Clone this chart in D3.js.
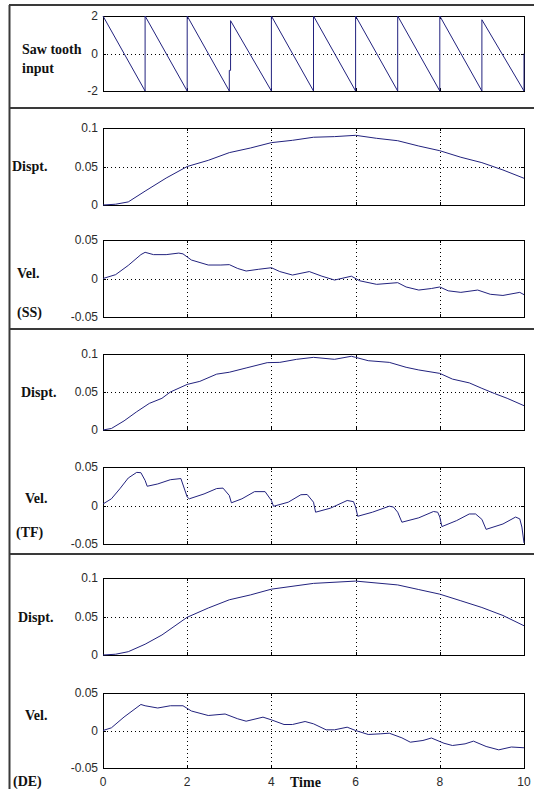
<!DOCTYPE html>
<html>
<head>
<meta charset="utf-8">
<script src="https://cdn.jsdelivr.net/npm/d3@7"></script>
<style>
  body { margin: 0; background: #fff; }
  svg { display: block; }
  .tick-lbl { font-family: "Liberation Sans", Arial, sans-serif; font-size: 12px; fill: #2a2a2a; }
  .side-lbl { font-family: "Liberation Serif", "Times New Roman", serif; font-weight: bold; font-size: 14px; fill: #111; }
</style>
</head>
<body>
<svg id="chart"></svg>
<script>
const chartSize = { width: 534, height: 789 };

// tick values
const timeTicks = [0, 2, 4, 6, 8, 10];
const sawTicks = [-2, 0, 2];
const disptTicks = [0, 0.05, 0.1];
const velTicks = [-0.05, 0, 0.05];

// saw tooth input [t, value]
const sawInput = [
  [0, 2], [1, -2], [1, 2], [2, -2], [2, 2], [3, -2], [3, -0.9], [3.03, -0.9], [3.03, 1.75], [4, -2], [4, 2], [5, -2],
  [5, 2], [6, -2], [6, 2], [7, -2], [7, 2], [8, -2], [8, 2], [9, -2], [9, 1.8], [10, -2], [10, 0]
];

// SS
const disptSS = [
  [0, 0], [0.3, 0.001], [0.6, 0.004], [1, 0.018], [1.5, 0.035], [2, 0.05], [2.5, 0.058],
  [3, 0.068], [3.5, 0.074], [4, 0.081], [4.5, 0.084], [5, 0.088], [5.5, 0.0888], [6, 0.0905],
  [6.5, 0.0866], [7, 0.0835], [7.5, 0.0766], [8, 0.0705], [8.5, 0.062], [9, 0.055],
  [9.5, 0.0455], [10, 0.0347]
];
const velSS = [
  [0, 0], [0.3, 0.005], [0.6, 0.017], [0.9, 0.031], [1.0, 0.034], [1.2, 0.031], [1.5, 0.031],
  [1.8, 0.033], [1.9, 0.032], [2.1, 0.024], [2.5, 0.0175], [2.8, 0.0175], [3.0, 0.018],
  [3.2, 0.013], [3.4, 0.0097], [3.7, 0.012], [4.0, 0.014], [4.2, 0.009], [4.5, 0.0045],
  [4.9, 0.009], [5.2, 0.003], [5.5, -0.002], [5.9, 0.003], [6.1, -0.003], [6.5, -0.0076],
  [7.0, -0.0054], [7.2, -0.011], [7.5, -0.015], [7.8, -0.013], [8.0, -0.011], [8.2, -0.016],
  [8.5, -0.018], [8.9, -0.015], [9.2, -0.0205], [9.5, -0.022], [9.9, -0.018], [10, -0.021]
];

// TF
const disptTF = [
  [0, 0], [0.2, 0.002], [0.5, 0.012], [0.8, 0.024], [1.1, 0.035], [1.4, 0.0417], [1.6, 0.05],
  [2.0, 0.06], [2.3, 0.064], [2.7, 0.0735], [3.0, 0.076], [3.4, 0.0816], [3.9, 0.0886],
  [4.2, 0.089], [4.6, 0.093], [5.0, 0.0956], [5.5, 0.093], [5.9, 0.097], [6.0, 0.0956],
  [6.3, 0.0912], [6.8, 0.089], [7.2, 0.0825], [7.5, 0.079], [8.0, 0.0745], [8.3, 0.067],
  [8.7, 0.062], [9.0, 0.0548], [9.3, 0.048], [9.6, 0.0417], [10, 0.032]
];
const velTF = [
  [0, 0.002], [0.2, 0.0087], [0.4, 0.0217], [0.6, 0.0357], [0.8, 0.043], [0.9, 0.0426],
  [1.0, 0.0326], [1.05, 0.025], [1.3, 0.028], [1.6, 0.0335], [1.85, 0.035], [2.0, 0.011],
  [2.05, 0.0087], [2.4, 0.015], [2.7, 0.022], [2.85, 0.0226], [3.0, 0.013], [3.05, 0.0035],
  [3.3, 0.0087], [3.6, 0.018], [3.85, 0.018], [4.0, 0.0065], [4.05, -0.001], [4.4, 0.0043],
  [4.7, 0.014], [4.85, 0.0143], [5.0, 0.0043], [5.05, -0.0087], [5.4, -0.0035], [5.8, 0.0065],
  [5.95, 0.005], [6.0, -0.002], [6.05, -0.014], [6.4, -0.0087], [6.8, -0.0009], [6.9, -0.002],
  [7.0, -0.0087], [7.1, -0.0217], [7.5, -0.016], [7.85, -0.0078], [7.95, -0.0087], [8.0, -0.015],
  [8.05, -0.0274], [8.4, -0.0196], [8.7, -0.011], [8.85, -0.011], [9.0, -0.018], [9.1, -0.031],
  [9.5, -0.024], [9.8, -0.015], [9.9, -0.0174], [9.95, -0.028], [10, -0.0487]
];

// DE
const disptDE = [
  [0, 0], [0.3, 0.001], [0.6, 0.0043], [1.0, 0.014], [1.4, 0.026], [2.0, 0.049], [2.5, 0.061],
  [3.0, 0.0717], [3.5, 0.078], [4.0, 0.0855], [5.0, 0.093], [6.0, 0.096], [7.0, 0.091],
  [7.5, 0.085], [8.0, 0.079], [8.5, 0.0704], [9.0, 0.0617], [9.5, 0.0513], [10, 0.038]
];
const velDE = [
  [0, 0], [0.2, 0.0036], [0.5, 0.018], [0.9, 0.0347], [1.0, 0.033], [1.3, 0.03], [1.6, 0.033],
  [1.9, 0.033], [2.1, 0.026], [2.5, 0.02], [2.9, 0.022], [3.2, 0.0156], [3.4, 0.0124],
  [3.8, 0.0178], [4.0, 0.0142], [4.3, 0.008], [4.5, 0.008], [4.8, 0.012], [5.0, 0.0089],
  [5.3, 0.0009], [5.5, 0.0009], [5.8, 0.0044], [6.0, 0], [6.3, -0.0053], [6.6, -0.0044],
  [6.8, -0.0036], [7.1, -0.0098], [7.3, -0.0156], [7.6, -0.0133], [7.8, -0.01], [8.1, -0.017],
  [8.3, -0.02], [8.6, -0.0178], [8.8, -0.0142], [9.1, -0.0213], [9.4, -0.0258], [9.7, -0.022],
  [10, -0.023]
];

const panels = [
  { data: sawInput, domain: [-2, 2], ticks: sawTicks, top: 16, bottom: 91, grid: 0, vgrid: false,
    labels: [["Saw tooth", 22, 54], ["input", 22, 73]] },
  { data: disptSS, domain: [0, 0.1], ticks: disptTicks, top: 128, bottom: 205, grid: 0.05, vgrid: true,
    labels: [["Dispt.", 12, 171]] },
  { data: velSS, domain: [-0.05, 0.05], ticks: velTicks, top: 240, bottom: 317, grid: 0, vgrid: true,
    labels: [["Vel.", 17, 278], ["(SS)", 17, 317]] },
  { data: disptTF, domain: [0, 0.1], ticks: disptTicks, top: 354, bottom: 430, grid: 0.05, vgrid: true,
    labels: [["Dispt.", 21, 397]] },
  { data: velTF, domain: [-0.05, 0.05], ticks: velTicks, top: 467, bottom: 544, grid: 0, vgrid: true,
    labels: [["Vel.", 25, 503], ["(TF)", 16, 537]] },
  { data: disptDE, domain: [0, 0.1], ticks: disptTicks, top: 578, bottom: 655, grid: 0.05, vgrid: true,
    labels: [["Dispt.", 18, 622]] },
  { data: velDE, domain: [-0.05, 0.05], ticks: velTicks, top: 693, bottom: 768, grid: 0, vgrid: true,
    labels: [["Vel.", 25, 720], ["(DE)", 13, 786]] }
];

const dividers = [108, 329, 554];
const lineColor = "#22227e";

const svg = d3.select("#chart")
  .attr("width", chartSize.width)
  .attr("height", chartSize.height);

// outer frame
svg.append("line").attr("x1", 9.5).attr("x2", 9.5).attr("y1", 5).attr("y2", chartSize.height)
  .attr("stroke", "#3a3a3a").attr("stroke-width", 2);
svg.append("line").attr("x1", 9).attr("x2", chartSize.width).attr("y1", 5).attr("y2", 5)
  .attr("stroke", "#3a3a3a").attr("stroke-width", 2);
svg.selectAll(".divider").data(dividers).enter().append("line")
  .attr("class", "divider")
  .attr("x1", 9).attr("x2", chartSize.width)
  .attr("y1", d => d).attr("y2", d => d)
  .attr("stroke", "#3a3a3a").attr("stroke-width", 2);

const x = d3.scaleLinear().domain([0, 10]).range([103, 524]);
const fmt = d => String(d);

panels.forEach((p, i) => {
  const y = d3.scaleLinear().domain(p.domain).range([p.bottom, p.top]);
  const g = svg.append("g");

  // grid
  g.append("line")
    .attr("x1", x(0)).attr("x2", x(10))
    .attr("y1", Math.round(y(p.grid)) + 0.5).attr("y2", Math.round(y(p.grid)) + 0.5)
    .attr("stroke", "#000").attr("stroke-dasharray", "1,3");
  if (p.vgrid) {
    g.selectAll(".vg").data([2, 4, 6, 8]).enter().append("line")
      .attr("x1", d => Math.round(x(d)) + 0.5).attr("x2", d => Math.round(x(d)) + 0.5)
      .attr("y1", p.top).attr("y2", p.bottom)
      .attr("stroke", "#000").attr("stroke-dasharray", "1,3");
  }

  // inside ticks
  const tl = 3;
  timeTicks.forEach(t => {
    const xx = Math.round(x(t)) + 0.5;
    g.append("line").attr("x1", xx).attr("x2", xx).attr("y1", p.bottom).attr("y2", p.bottom - tl).attr("stroke", "#000");
    g.append("line").attr("x1", xx).attr("x2", xx).attr("y1", p.top).attr("y2", p.top + tl).attr("stroke", "#000");
  });
  p.ticks.forEach(v => {
    const yy = Math.round(y(v)) + 0.5;
    g.append("line").attr("x1", x(0)).attr("x2", x(0) + tl).attr("y1", yy).attr("y2", yy).attr("stroke", "#000");
    g.append("line").attr("x1", x(10)).attr("x2", x(10) - tl).attr("y1", yy).attr("y2", yy).attr("stroke", "#000");
  });

  // box
  g.append("rect")
    .attr("x", Math.round(x(0)) + 0.5).attr("y", p.top + 0.5)
    .attr("width", Math.round(x(10) - x(0))).attr("height", p.bottom - p.top)
    .attr("fill", "none").attr("stroke", "#000").attr("stroke-width", 1);

  // y tick labels
  g.selectAll(".ylbl").data(p.ticks).enter().append("text")
    .attr("class", "tick-lbl")
    .attr("x", x(0) - 5)
    .attr("y", d => y(d) + 4)
    .attr("text-anchor", "end")
    .text(fmt);

  // series
  const line = d3.line().x(d => x(d[0])).y(d => y(d[1]));
  g.append("path")
    .datum(p.data)
    .attr("d", line)
    .attr("fill", "none")
    .attr("stroke", lineColor)
    .attr("stroke-width", 1);

  // side labels
  p.labels.forEach(([txt, lx, ly]) => {
    g.append("text").attr("class", "side-lbl").attr("x", lx).attr("y", ly).text(txt);
  });

  // time axis labels on the last panel
  if (i === panels.length - 1) {
    g.selectAll(".xlbl").data(timeTicks).enter().append("text")
      .attr("class", "tick-lbl")
      .attr("x", d => x(d))
      .attr("y", p.bottom + 18)
      .attr("text-anchor", "middle")
      .text(fmt);
    g.append("text").attr("class", "side-lbl")
      .attr("x", 290).attr("y", p.bottom + 19)
      .text("Time");
  }
});
</script>
</body>
</html>
